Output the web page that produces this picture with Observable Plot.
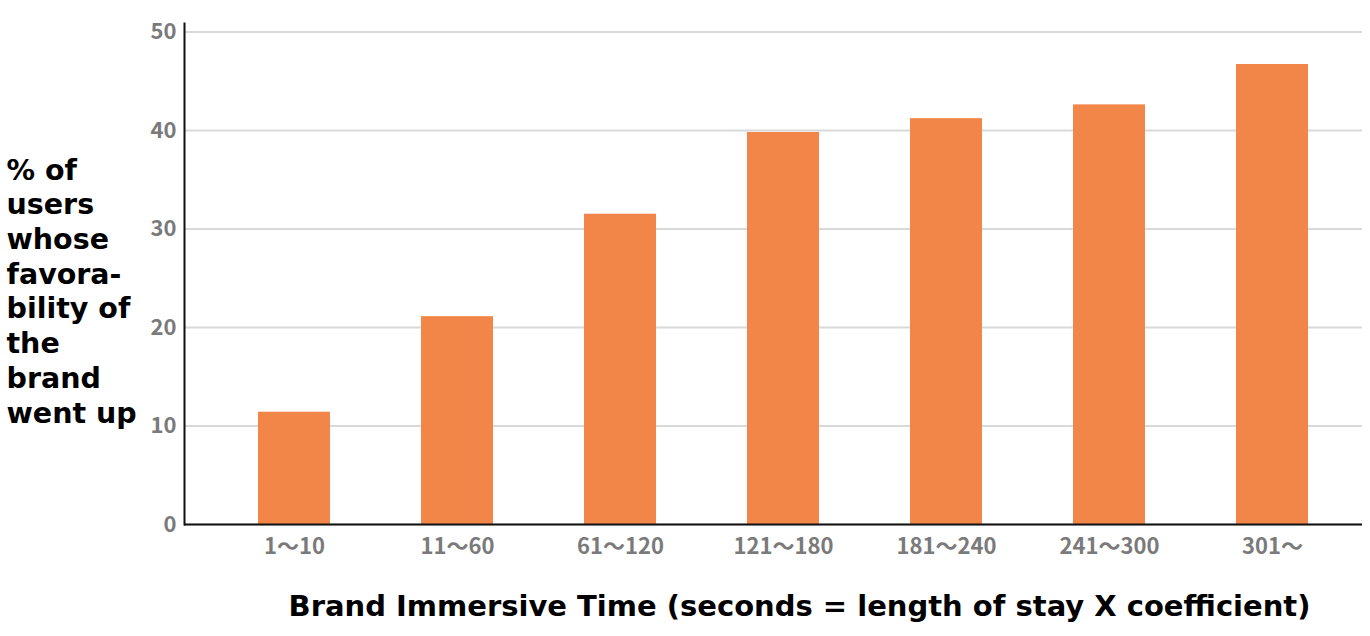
<!DOCTYPE html>
<html><head><meta charset="utf-8">
<script src="https://cdn.jsdelivr.net/npm/d3@7"></script>
<script src="https://cdn.jsdelivr.net/npm/@observablehq/plot@0.6"></script>
<style>body{margin:0;background:#fff}</style>
</head><body><div id="chart"></div>
<script>
const categories = ["1〜10","11〜60","61〜120","121〜180","181〜240","241〜300","301〜"];
const values = [11.4, 21.1, 31.5, 39.8, 41.2, 42.6, 46.7];
const yTicks = [0, 10, 20, 30, 40, 50];
const yTitle = "% of\nusers\nwhose\nfavora-\nbility of\nthe\nbrand\nwent up";
const xTitle = "Brand Immersive Time (seconds = length of stay X coefficient)";

const data = categories.map((c, i) => ({category: c, value: values[i]}));

const chart = Plot.plot({
  width: 1370, height: 636,
  marginLeft: 184, marginRight: 8, marginTop: 23, marginBottom: 112,
  style: {background: "#fff", fontFamily: "'Noto Sans CJK JP', 'Noto Sans', sans-serif"},
  x: {domain: categories, range: [257, 1310], paddingInner: 0.556, paddingOuter: 0, label: null},
  y: {domain: [0, 50.86], label: null},
  marks: [
    Plot.gridY(yTicks, {stroke: "#d9d9d9", strokeOpacity: 1, strokeWidth: 2}),
    Plot.barY(data, {x: "category", y: "value", fill: "#f28649"}),
    Plot.axisY(yTicks, {tickSize: 0, tickPadding: 8, fontSize: 22, fill: "#7a7a7a", fontWeight: 700, label: null}),
    Plot.axisX({tickSize: 0, tickPadding: 14, fontSize: 22, fill: "#7a7a7a", fontWeight: 700, label: null}),
    Plot.ruleY([0], {stroke: "#111", strokeWidth: 2}),
    Plot.frame({anchor: "left", stroke: "#111", strokeWidth: 2}),
    Plot.text([yTitle], {text: d => d, frameAnchor: "left", textAnchor: "start", lineAnchor: "middle",
      dx: -178, dy: 16, fontSize: 28.5, lineHeight: 1.218, fontFamily: "DejaVu Sans", fontWeight: "bold", fill: "#000"}),
    Plot.text([xTitle], {text: d => d, frameAnchor: "bottom", textAnchor: "middle", lineAnchor: "middle",
      dx: 26, dy: 82, fontSize: 29, fontFamily: "DejaVu Sans", fontWeight: "bold", fill: "#000"})
  ]
});
document.getElementById("chart").appendChild(chart);
</script>
</body></html>
